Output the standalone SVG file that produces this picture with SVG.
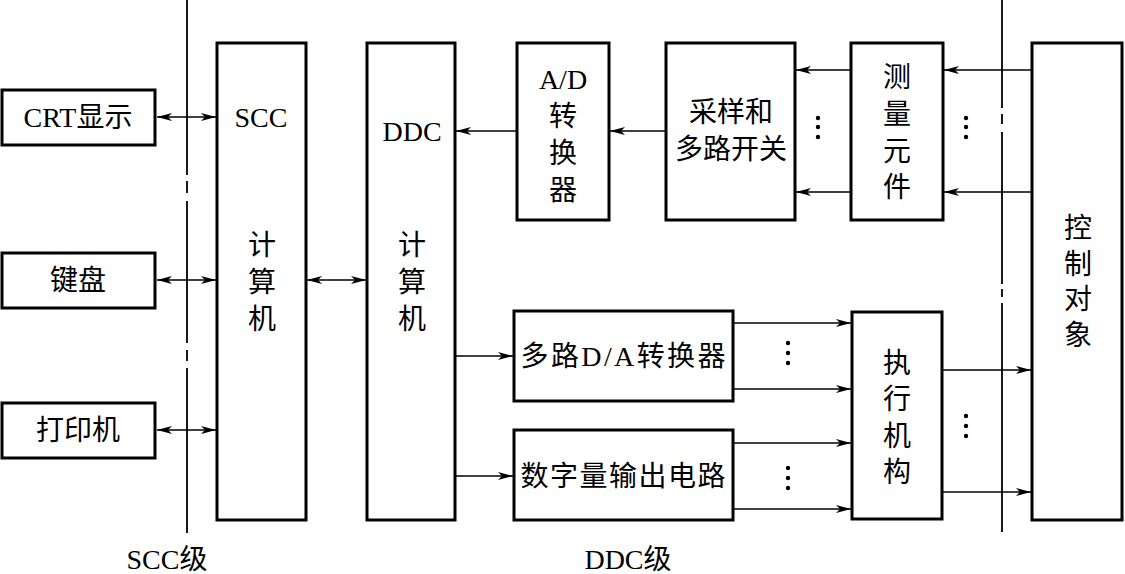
<svg xmlns="http://www.w3.org/2000/svg" width="1125" height="574" viewBox="0 0 1125 574">
<style>
.box{fill:#fff;stroke:#000;stroke-width:3}
.ln{fill:none;stroke:#000;stroke-width:1.5}
.sep{fill:none;stroke:#000;stroke-width:1.8}
text{font-family:'Liberation Serif','Noto Sans CJK SC',serif;font-size:28px;fill:#000;text-anchor:middle;dominant-baseline:central}
.lat{font-family:'Liberation Serif',serif}
.dot{fill:#000}
</style>
<defs>
<marker id="ah" markerUnits="userSpaceOnUse" markerWidth="16" markerHeight="10" refX="15" refY="5" orient="auto-start-reverse">
<path d="M0,1 L15,5 L0,9 L4,5 z" fill="#000"/>
</marker>
</defs>
<rect width="1125" height="574" fill="#fff"/>
<g id="separators">
<path class="sep" d="M187,0 V175 M187,181 V193 M187,201 V343 M187,350 V361 M187,368 V533"/>
<path class="sep" d="M1002,0 V108 M1002,114 V124 M1002,132 V284 M1002,289 V297 M1002,303 V532"/>
</g>
<g id="connectors">
<line class="ln" x1="157" y1="117" x2="216" y2="117" marker-start="url(#ah)" marker-end="url(#ah)"/>
<line class="ln" x1="157" y1="280" x2="216" y2="280" marker-start="url(#ah)" marker-end="url(#ah)"/>
<line class="ln" x1="157" y1="430" x2="216" y2="430" marker-start="url(#ah)" marker-end="url(#ah)"/>
<line class="ln" x1="307" y1="280" x2="366" y2="280" marker-start="url(#ah)" marker-end="url(#ah)"/>
<line class="ln" x1="517" y1="131" x2="456" y2="131" marker-end="url(#ah)"/>
<line class="ln" x1="666" y1="131" x2="610" y2="131" marker-end="url(#ah)"/>
<line class="ln" x1="851" y1="70" x2="796" y2="70" marker-end="url(#ah)"/>
<line class="ln" x1="851" y1="192" x2="796" y2="192" marker-end="url(#ah)"/>
<line class="ln" x1="1032" y1="70" x2="944" y2="70" marker-end="url(#ah)"/>
<line class="ln" x1="1032" y1="192" x2="944" y2="192" marker-end="url(#ah)"/>
<line class="ln" x1="456" y1="356" x2="513" y2="356" marker-end="url(#ah)"/>
<line class="ln" x1="456" y1="476" x2="513" y2="476" marker-end="url(#ah)"/>
<line class="ln" x1="734" y1="323" x2="851" y2="323" marker-end="url(#ah)"/>
<line class="ln" x1="734" y1="389" x2="851" y2="389" marker-end="url(#ah)"/>
<line class="ln" x1="734" y1="443" x2="851" y2="443" marker-end="url(#ah)"/>
<line class="ln" x1="734" y1="509" x2="851" y2="509" marker-end="url(#ah)"/>
<line class="ln" x1="943" y1="370" x2="1031" y2="370" marker-end="url(#ah)"/>
<line class="ln" x1="943" y1="492" x2="1031" y2="492" marker-end="url(#ah)"/>
<g class="dot">
<circle cx="818" cy="118" r="2.2"/><circle cx="818" cy="127" r="2.2"/><circle cx="818" cy="137" r="2.2"/>
<circle cx="966" cy="118" r="2.2"/><circle cx="966" cy="127" r="2.2"/><circle cx="966" cy="137" r="2.2"/>
<circle cx="788" cy="343" r="2.2"/><circle cx="788" cy="353" r="2.2"/><circle cx="788" cy="363" r="2.2"/>
<circle cx="788" cy="468" r="2.2"/><circle cx="788" cy="478" r="2.2"/><circle cx="788" cy="488" r="2.2"/>
<circle cx="966" cy="416" r="2.2"/><circle cx="966" cy="426" r="2.2"/><circle cx="966" cy="436" r="2.2"/>
</g>
</g>
<g id="crt"><rect class="box" x="2" y="90" width="153" height="55"/><text x="78" y="117"><tspan class="lat">CRT</tspan>显示</text></g>
<g id="keyboard"><rect class="box" x="2" y="253" width="153" height="55"/><text x="78" y="280">键盘</text></g>
<g id="printer"><rect class="box" x="2" y="403" width="153" height="55"/><text x="78" y="430">打印机</text></g>
<g id="scc"><rect class="box" x="217" y="43" width="89" height="477"/>
<text x="261" y="117">SCC</text><text x="262" y="245">计</text><text x="262" y="282">算</text><text x="262" y="319">机</text></g>
<g id="ddc"><rect class="box" x="367" y="43" width="88" height="477"/>
<text x="412" y="131">DDC</text><text x="412" y="245">计</text><text x="412" y="282">算</text><text x="412" y="319">机</text></g>
<g id="ad"><rect class="box" x="517" y="43" width="92" height="177"/>
<text x="563" y="79">A/D</text><text x="563" y="116">转</text><text x="563" y="153">换</text><text x="563" y="190">器</text></g>
<g id="mux"><rect class="box" x="666" y="43" width="129" height="177"/>
<text x="731" y="112">采样和</text><text x="731" y="149">多路开关</text></g>
<g id="sensor"><rect class="box" x="851" y="43" width="92" height="177"/>
<text x="897" y="77">测</text><text x="897" y="114">量</text><text x="897" y="151">元</text><text x="897" y="187">件</text></g>
<g id="plant"><rect class="box" x="1032" y="43" width="90" height="477"/>
<text x="1078" y="228">控</text><text x="1078" y="264">制</text><text x="1078" y="299">对</text><text x="1078" y="335">象</text></g>
<g id="da"><rect class="box" x="514" y="311" width="219" height="90"/>
<text x="623" y="356" textLength="205" lengthAdjust="spacing">多路<tspan class="lat">D/A</tspan>转换器</text></g>
<g id="dout"><rect class="box" x="514" y="430" width="219" height="90"/>
<text x="623" y="476" textLength="205" lengthAdjust="spacing">数字量输出电路</text></g>
<g id="actuator"><rect class="box" x="852" y="312" width="90" height="207"/>
<text x="897" y="363">执</text><text x="897" y="399">行</text><text x="897" y="436">机</text><text x="897" y="472">构</text></g>
<g id="labels"><text x="167" y="559"><tspan class="lat">SCC</tspan>级</text><text x="628" y="559"><tspan class="lat">DDC</tspan>级</text></g>
</svg>
